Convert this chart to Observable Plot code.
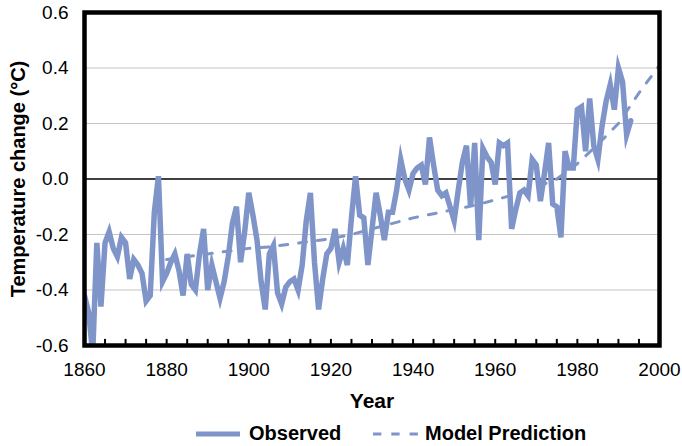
<!DOCTYPE html>
<html>
<head>
<meta charset="utf-8">
<script src="https://cdn.jsdelivr.net/npm/d3@7"></script>
<script src="https://cdn.jsdelivr.net/npm/@observablehq/plot@0.6"></script>
<style>
  html, body { margin: 0; padding: 0; background: #fff; }
  body { width: 682px; height: 446px; overflow: hidden; font-family: "Liberation Sans", Arial, sans-serif; }
  #legend { position: relative; height: 34px; }
  #legend .item { position: absolute; top: 0; height: 34px; display: flex; align-items: center; padding-top: 9px; box-sizing: border-box; }
  #legend .lbl { font-weight: bold; font-size: 20px; color: #000; }
</style>
</head>
<body>
<div id="chart"></div>
<div id="legend"></div>
<script>
// ---- data ----
const firstYear = 1860;
const observedAnomaly = [
  -0.42, -0.48, -0.63, -0.23, -0.46, -0.23, -0.19, -0.25, -0.28, -0.21,
  -0.23, -0.36, -0.29, -0.31, -0.34, -0.44, -0.42, -0.12, 0.01, -0.37,
  -0.34, -0.30, -0.27, -0.33, -0.42, -0.27, -0.38, -0.40, -0.27, -0.18,
  -0.40, -0.31, -0.37, -0.43, -0.37, -0.28, -0.16, -0.10, -0.30, -0.19,
  -0.05, -0.13, -0.22, -0.37, -0.47, -0.27, -0.24, -0.41, -0.45, -0.39,
  -0.37, -0.36, -0.40, -0.31, -0.15, -0.05, -0.30, -0.47, -0.36, -0.27,
  -0.25, -0.18, -0.30, -0.25, -0.31, -0.14, 0.01, -0.13, -0.14, -0.31,
  -0.18, -0.05, -0.13, -0.22, -0.12, -0.12, -0.04, 0.07, 0.00, -0.04,
  0.02, 0.04, 0.05, -0.02, 0.15, 0.05, -0.04, -0.06, -0.05, -0.10,
  -0.15, -0.04, 0.06, 0.12, -0.10, 0.13, -0.22, 0.11, 0.08, 0.06,
  -0.02, 0.13, 0.12, 0.13, -0.18, -0.11, -0.05, -0.04, -0.06, 0.07,
  0.05, -0.08, 0.02, 0.13, -0.09, -0.10, -0.21, 0.10, 0.04, 0.04,
  0.25, 0.26, 0.10, 0.29, 0.12, 0.07, 0.19, 0.28, 0.34, 0.25,
  0.40, 0.35, 0.16, 0.21
];
const modelYears = [1880, 1885, 1890, 1895, 1900, 1905, 1910, 1915, 1920, 1925, 1930, 1935, 1940, 1945, 1950, 1955, 1960, 1965, 1970, 1975, 1980, 1985, 1990, 1995, 2000];
const modelValues = [-0.29, -0.28, -0.27, -0.26, -0.25, -0.245, -0.235, -0.225, -0.215, -0.20, -0.18, -0.16, -0.14, -0.125, -0.11, -0.095, -0.075, -0.055, -0.03, 0.00, 0.055, 0.125, 0.20, 0.31, 0.41];
const xTickLabels = [1860, 1880, 1900, 1920, 1940, 1960, 1980, 2000];
const xMinorTicks = [1865, 1870, 1875, 1880, 1885, 1890, 1895, 1900, 1905, 1910, 1915, 1920, 1925, 1930, 1935, 1940, 1945, 1950, 1955, 1960, 1965, 1970, 1975, 1980, 1985, 1990, 1995];
const yTickLabels = [-0.6, -0.4, -0.2, 0.0, 0.2, 0.4, 0.6];
const gridValues = [-0.4, -0.2, 0.2, 0.4];
const seriesNames = ["Observed", "Model Prediction"];

const observed = observedAnomaly.map((v, i) => ({year: firstYear + i, value: v}));
const model = modelYears.map((y, i) => ({year: y, value: modelValues[i]}));

const lineColor = "#7f95c9";

const chart = Plot.plot({
  width: 682,
  height: 412,
  marginLeft: 84,
  marginRight: 23,
  marginTop: 12,
  marginBottom: 67,
  x: {domain: [1860, 2000]},
  y: {domain: [-0.6, 0.6]},
  style: {fontFamily: "'Liberation Sans', Arial, sans-serif", fontSize: "19px", color: "#000", background: "#fff"},
  marks: [
    Plot.ruleY(gridValues, {stroke: "#c4c4c4", strokeWidth: 1.2}),
    Plot.ruleY([0], {stroke: "#000", strokeWidth: 1.6}),
    Plot.line(model, {x: "year", y: "value", stroke: lineColor, strokeWidth: 3, strokeDasharray: "8,11"}),
    Plot.line(observed, {x: "year", y: "value", stroke: lineColor, strokeWidth: 5.5, strokeLinejoin: "miter", strokeMiterlimit: 6, clip: true}),
    Plot.ruleX(xMinorTicks, {x: d => d, y1: -0.6, y2: -0.578, stroke: "#000", strokeWidth: 2}),
    Plot.frame({stroke: "#000", strokeWidth: 4.5}),
    Plot.axisY(yTickLabels, {tickSize: 0, tickPadding: 16, tickFormat: d => d.toFixed(1), label: null}),
    Plot.axisX(xTickLabels, {tickSize: 0, tickPadding: 17, tickFormat: d => String(d), label: null}),
    Plot.text(["Year"], {frameAnchor: "bottom", textAnchor: "middle", lineAnchor: "middle", dy: 56, fontWeight: "bold", fontSize: 21}),
    Plot.text(["Temperature change (°C)"], {frameAnchor: "left", textAnchor: "middle", lineAnchor: "middle", dx: -66, rotate: -90, fontWeight: "bold", fontSize: 20})
  ]
});
document.getElementById("chart").appendChild(chart);

// ---- legend ----
const legend = document.getElementById("legend");
function addItem(left, dash, width, lw, name, gap) {
  const item = document.createElement("div");
  item.className = "item";
  item.style.left = left + "px";
  const svgNS = "http://www.w3.org/2000/svg";
  const svg = document.createElementNS(svgNS, "svg");
  svg.setAttribute("width", width);
  svg.setAttribute("height", 8);
  const ln = document.createElementNS(svgNS, "line");
  ln.setAttribute("x1", 0); ln.setAttribute("x2", width);
  ln.setAttribute("y1", 4); ln.setAttribute("y2", 4);
  ln.setAttribute("stroke", lineColor);
  ln.setAttribute("stroke-width", lw);
  if (dash) ln.setAttribute("stroke-dasharray", dash);
  svg.appendChild(ln);
  item.appendChild(svg);
  const t = document.createElement("span");
  t.className = "lbl";
  t.style.marginLeft = gap + "px";
  t.textContent = name;
  item.appendChild(t);
  legend.appendChild(item);
}
addItem(196, null, 44, 5, seriesNames[0], 9);
addItem(373, "8.3,10", 45, 3, seriesNames[1], 7);
</script>
</body>
</html>
